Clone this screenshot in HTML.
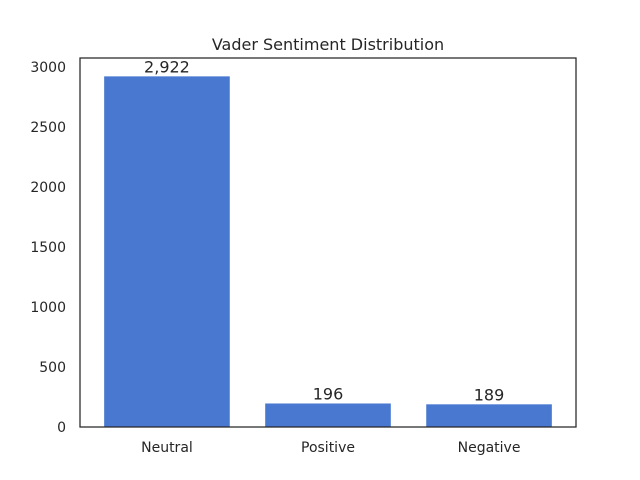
<!DOCTYPE html>
<html>
<head>
<meta charset="utf-8">
<style>
  html,body{margin:0;padding:0;background:#fff;}
  svg{display:block;font-family:"DejaVu Sans","Liberation Sans",sans-serif;}
</style>
</head>
<body>
<svg id="chart" width="640" height="480" viewBox="0 0 640 480">
  <text x="328" y="50" text-anchor="middle" font-size="16" fill="#262626">Vader Sentiment Distribution</text>
  <g id="bars"></g>
  <g id="yticks"></g>
  <g id="xticks"></g>
  <rect x="80" y="58" width="496" height="369" fill="none" stroke="#262626" stroke-width="1.25"/>
</svg>
<script>
const categories = ["Neutral", "Positive", "Negative"];
const counts = [2922, 196, 189];
const valueLabels = ["2,922", "196", "189"];
const yTicks = [0, 500, 1000, 1500, 2000, 2500, 3000];

const L = 80, R = 576, T = 58, B = 427;
const yMax = 3075;
const xMin = -0.54, xMax = 2.54;
const NS = "http://www.w3.org/2000/svg";
function y(v){ return B - v / yMax * (B - T); }
function x(i){ return L + (i - xMin) / (xMax - xMin) * (R - L); }
const bw = 0.78 * (R - L) / (xMax - xMin);

const gB = document.getElementById('bars');
const gY = document.getElementById('yticks');
const gX = document.getElementById('xticks');

categories.forEach((c, i) => {
  const r = document.createElementNS(NS, 'rect');
  r.setAttribute('x', x(i) - bw / 2);
  r.setAttribute('y', y(counts[i]));
  r.setAttribute('width', bw);
  r.setAttribute('height', B - y(counts[i]));
  r.setAttribute('fill', '#4878d0');
  
  
  gB.appendChild(r);

  const t = document.createElementNS(NS, 'text');
  t.setAttribute('x', x(i));
  t.setAttribute('y', y(counts[i]) - 4);
  t.setAttribute('text-anchor', 'middle');
  t.setAttribute('font-size', '16');
  t.setAttribute('fill', '#262626');
  t.textContent = valueLabels[i];
  
  
  gB.appendChild(t);

  const xl = document.createElementNS(NS, 'text');
  xl.setAttribute('x', x(i));
  xl.setAttribute('y', 452);
  xl.setAttribute('text-anchor', 'middle');
  xl.setAttribute('font-size', '14');
  xl.setAttribute('fill', '#262626');
  xl.textContent = c;
  
  
  gX.appendChild(xl);
});

yTicks.forEach(v => {
  const t = document.createElementNS(NS, 'text');
  t.setAttribute('x', 66);
  t.setAttribute('y', y(v) + 5);
  t.setAttribute('text-anchor', 'end');
  t.setAttribute('font-size', '14');
  t.setAttribute('fill', '#262626');
  t.textContent = v;
  
  
  gY.appendChild(t);
});
</script>
</body>
</html>
